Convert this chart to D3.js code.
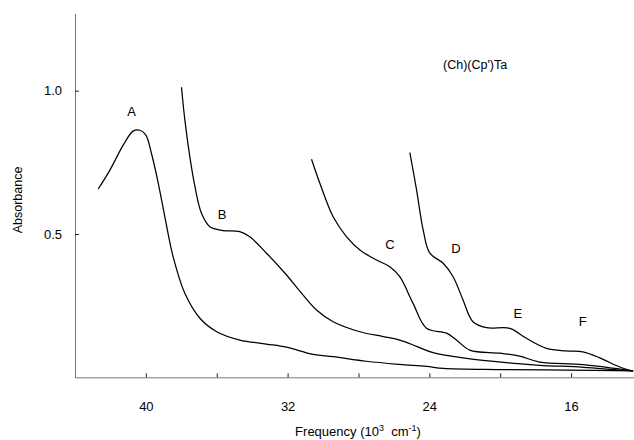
<!DOCTYPE html>
<html><head><meta charset="utf-8">
<script src="https://cdn.jsdelivr.net/npm/d3@7"></script>
<style>body{margin:0;background:#fff}svg{display:block}text{font-family:"Liberation Sans",Arial,sans-serif;fill:#000}</style>
</head><body><svg id="c" width="634" height="440"></svg>
<script>
// frequency in 10^3 cm^-1, absorbance
const curveA = [[42.69,0.657],[42.03,0.723],[41.28,0.81],[40.72,0.859],[40.34,0.862],[40.0,0.845],[39.68,0.78],[39.3,0.677],[38.93,0.56],[38.46,0.42],[37.8,0.293],[36.95,0.206],[36.0,0.159],[34.7,0.130],[33.2,0.116],[32.07,0.105],[30.56,0.080],[29.43,0.072],[27.55,0.056],[25.67,0.045],[24.16,0.038],[23.2,0.031],[20.0,0.027],[16.26,0.025],[12.5,0.022]];
const curveB = [[37.99,1.012],[37.8,0.898],[37.52,0.77],[37.23,0.665],[36.86,0.572],[36.39,0.525],[35.64,0.512],[34.7,0.508],[34.13,0.49],[33.19,0.433],[32.06,0.357],[31.3,0.30],[30.37,0.235],[29.43,0.194],[27.92,0.159],[26.6,0.142],[25.67,0.130],[24.72,0.108],[23.79,0.086],[21.9,0.066],[19.64,0.051],[17.77,0.042],[15.32,0.035],[12.5,0.022]];
const curveC = [[30.65,0.761],[30.18,0.677],[29.43,0.56],[28.67,0.49],[27.92,0.444],[26.98,0.409],[26.23,0.386],[25.67,0.351],[24.92,0.258],[24.16,0.171],[23.03,0.154],[22.47,0.130],[21.72,0.095],[20.02,0.084],[18.9,0.074],[17.77,0.053],[15.33,0.044],[12.5,0.022]];
const curveD = [[25.1,0.784],[24.72,0.653],[24.35,0.514],[23.97,0.433],[23.22,0.398],[22.66,0.351],[22.1,0.27],[21.54,0.194],[20.77,0.173],[19.46,0.171],[18.52,0.136],[17.39,0.101],[16.3,0.092],[15.33,0.089],[14.38,0.068],[13.25,0.036],[12.5,0.022]];
const seriesCurves = [curveA, curveB, curveC, curveD];
const bandLabels = ["A","B","C","D","E","F"];
const bandPositions = [[40.8,0.925],[35.7,0.566],[26.23,0.46],[22.5,0.447],[19.0,0.22],[15.35,0.19]];
const xTickValues = [40,36,32,28,24,20,16];
const xTickLabels = ["40","","32","","24","","16"];
const yTickValues = [0.5,1.0];
const yTickLabels = ["0.5","1.0"];
const titleText = "(Ch)(Cp')Ta";

const svg = d3.select("#c");
const x = d3.scaleLinear().domain([44.0,12.45]).range([75,634]);
const y = d3.scaleLinear().domain([0,1.27]).range([377.3,13.3]);

// axes
const gx = svg.append("g").attr("transform","translate(0,"+y(0)+")")
  .call(d3.axisBottom(x).tickValues(xTickValues).tickSizeInner(-4).tickSizeOuter(0)
    .tickFormat((d,i)=>xTickLabels[i]));
gx.select(".domain").attr("stroke","#777");
gx.selectAll(".tick line").attr("stroke","#222");
gx.selectAll(".tick text").attr("y",24).attr("font-size","13px").attr("font-family","Liberation Sans, Arial, sans-serif");

const gy = svg.append("g").attr("transform","translate("+x(44.0)+",0)")
  .call(d3.axisLeft(y).tickValues(yTickValues).tickSizeInner(-4).tickSizeOuter(0)
    .tickFormat((d,i)=>yTickLabels[i]));
gy.select(".domain").attr("stroke","#777");
gy.selectAll(".tick line").attr("stroke","#222");
gy.selectAll(".tick text").attr("x",-13).attr("font-size","13px").attr("font-family","Liberation Sans, Arial, sans-serif");

// curves
const line = d3.line().x(d=>x(d[0])).y(d=>y(d[1])).curve(d3.curveCatmullRom.alpha(0.5));
svg.append("g").selectAll("path").data(seriesCurves).join("path")
  .attr("d",line).attr("fill","none").attr("stroke","#000").attr("stroke-width",1.25);

// band labels
svg.append("g").selectAll("text").data(bandLabels).join("text")
  .attr("x",(d,i)=>x(bandPositions[i][0])).attr("y",(d,i)=>y(bandPositions[i][1]))
  .attr("text-anchor","middle").attr("dominant-baseline","middle")
  .attr("font-size","13px").text(d=>d);

svg.append("text").attr("x",443).attr("y",69).attr("font-size","12.5px").text(titleText);

// axis titles
const xt = svg.append("text").attr("x",358).attr("y",436).attr("text-anchor","middle").attr("font-size","13px");
xt.append("tspan").text("Frequency (10");
xt.append("tspan").attr("dy",-5).attr("font-size","9px").text("3");
xt.append("tspan").attr("dy",5).text("\u00a0 cm");
xt.append("tspan").attr("dy",-5).attr("font-size","9px").text("-1");
xt.append("tspan").attr("dy",5).text(")");

svg.append("text").attr("transform","translate(22,200) rotate(-90)").attr("text-anchor","middle")
  .attr("font-size","12.5px").text("Absorbance");
</script></body></html>
